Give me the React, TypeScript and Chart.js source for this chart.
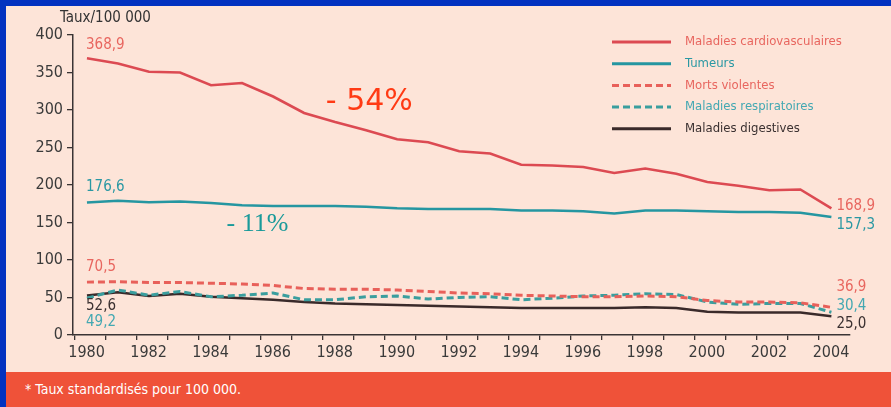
import React, { useEffect, useRef } from "react";
import { Chart, registerables } from "chart.js";

Chart.register(...registerables);

// ---------- DATA ----------
const years = [
  1980, 1981, 1982, 1983, 1984, 1985, 1986, 1987, 1988, 1989, 1990, 1991, 1992,
  1993, 1994, 1995, 1996, 1997, 1998, 1999, 2000, 2001, 2002, 2003, 2004,
];
const cardiovasculaires = [
  368.9, 362, 351, 350, 333, 336, 318, 296, 284, 273, 261, 257, 245, 242, 227,
  226, 224, 216, 222, 215, 204, 199, 193, 194, 168.9,
];
const tumeurs = [
  176.6, 179, 177, 178, 176, 173, 172, 172, 172, 171, 169, 168, 168, 168, 166,
  166, 165, 162, 166, 166, 165, 164, 164, 163, 157.3,
];
const mortsViolentes = [
  70.5, 71, 70, 70, 69, 68, 66, 62, 61, 61, 60, 58, 56, 55, 53, 52, 51, 51, 52,
  51, 46, 44, 44, 43, 36.9,
];
const respiratoires = [
  49.2, 60, 53, 58, 51, 53, 56, 47, 47, 51, 52, 48, 50, 51, 47, 49, 52, 53, 55,
  54, 44, 41, 42, 42, 30.4,
];
const digestives = [
  52.6, 57, 52, 55, 51, 49, 47, 44, 42, 41, 40, 39, 38, 37, 36, 36, 36, 36, 37,
  36, 31, 30, 30, 30, 25.0,
];
const seriesNames = [
  "Maladies cardiovasculaires",
  "Tumeurs",
  "Morts violentes",
  "Maladies respiratoires",
  "Maladies digestives",
];
const startLabels = ["368,9", "176,6", "70,5", "49,2", "52,6"];
const endLabels = ["168,9", "157,3", "36,9", "30,4", "25,0"];
const yTicks = [0, 50, 100, 150, 200, 250, 300, 350, 400];
const yAxisTitle = "Taux/100 000";
const footnote = "* Taux standardisés pour 100 000.";
const annotationTexts = ["- 54%", "- 11%"];

// ---------- STYLE ----------
const BLUE = "#0232C0";
const CREAM = "#FDE4D8";
const FOOT = "#EF5239";
const AXIS = "#3a3434";
const NARROW =
  '"Liberation Sans Narrow", "DejaVu Sans Condensed", "Roboto Condensed", sans-serif';

const lineColors = ["#DC4A52", "#2596A1", "#E8605A", "#3A9E9E", "#3A2A2A"];
const textColors = ["#E8665F", "#2A98A3", "#E8665F", "#43A8B2", "#3A3030"];
const dashes: number[][] = [[], [], [7, 4], [7, 4], []];
const widths = [2.6, 2.6, 3, 3, 2.4];
// label offsets (px) relative to first/last data point, centre of text
const startDy = [-13, -15, -15, 24, 11];
const endDy = [-2, 8, -20, -6, 8];
// annotation anchors in data units (left edge, vertical centre)
const annotationAnchors = [
  { x: 1987.7, y: 311, color: "#FF3A14", font: '30px "DejaVu Sans", sans-serif' },
  { x: 1984.5, y: 148, color: "#1A9A9A", font: '26px "Liberation Serif", serif' },
];

const allSeries = [cardiovasculaires, tumeurs, mortsViolentes, respiratoires, digestives];

const decorPlugin = {
  id: "decor",
  afterDraw(chart: any) {
    const ctx = chart.ctx as CanvasRenderingContext2D;
    const xs = chart.scales.x;
    const ys = chart.scales.y;
    const area = chart.chartArea;
    ctx.save();

    // y-axis title
    ctx.font = `15px ${NARROW}`;
    ctx.fillStyle = "#333";
    ctx.textAlign = "left";
    ctx.textBaseline = "middle";
    ctx.fillText(yAxisTitle, ys.right - 13, area.top - 17);

    // start / end value labels
    ctx.font = `15px ${NARROW}`;
    allSeries.forEach((s, i) => {
      ctx.fillStyle = textColors[i];
      ctx.textAlign = "left";
      const x0 = xs.getPixelForValue(years[0]);
      const y0 = ys.getPixelForValue(s[0]);
      ctx.fillText(startLabels[i], x0 - 1, y0 + startDy[i]);
      const x1 = xs.getPixelForValue(years[years.length - 1]);
      const y1 = ys.getPixelForValue(s[s.length - 1]);
      ctx.fillText(endLabels[i], x1 + 5, y1 + endDy[i]);
    });

    // annotations
    annotationAnchors.forEach((a, i) => {
      ctx.font = a.font;
      ctx.fillStyle = a.color;
      ctx.textAlign = "left";
      ctx.fillText(annotationTexts[i], xs.getPixelForValue(a.x), ys.getPixelForValue(a.y));
    });

    // legend
    const lx = area.right - 238;
    const ly = area.top + 7;
    const step = 21.7;
    chart.data.datasets.forEach((ds: any, i: number) => {
      const y = ly + i * step;
      ctx.beginPath();
      ctx.setLineDash(ds.borderDash || []);
      ctx.strokeStyle = ds.borderColor;
      ctx.lineWidth = 3;
      ctx.moveTo(lx, y);
      ctx.lineTo(lx + 59, y);
      ctx.stroke();
      ctx.setLineDash([]);
      ctx.font = `13px ${NARROW}`;
      ctx.fillStyle = textColors[i];
      ctx.textAlign = "left";
      ctx.fillText(ds.label, lx + 73, y);
    });
    ctx.restore();
  },
};

export default function App() {
  const ref = useRef<HTMLCanvasElement | null>(null);

  useEffect(() => {
    if (!ref.current) return;
    const chart = new Chart(ref.current, {
      type: "line",
      data: {
        datasets: allSeries.map((s, i) => ({
          label: seriesNames[i],
          data: years.map((y, j) => ({ x: y, y: s[j] })),
          borderColor: lineColors[i],
          borderWidth: widths[i],
          borderDash: dashes[i],
          pointRadius: 0,
          tension: 0,
          fill: false,
        })),
      },
      options: {
        responsive: false,
        animation: false,
        devicePixelRatio: 1,
        layout: { padding: { left: 0, top: 35, right: 41, bottom: 0 } },
        plugins: {
          legend: { display: false },
          tooltip: { enabled: false },
          title: { display: false },
        },
        scales: {
          x: {
            type: "linear",
            min: 1979.55,
            max: 2004.6,
            afterBuildTicks: (scale: any) => {
              scale.ticks = years.map((y) => ({ value: y - 0.4 }));
            },
            afterFit: (scale: any) => {
              scale.height = 37;
            },
            grid: {
              display: true,
              drawOnChartArea: false,
              drawTicks: true,
              tickLength: 5,
              color: AXIS,
              lineWidth: 1.3,
            },
            border: { display: true, color: AXIS, width: 1.5 },
            ticks: {
              autoSkip: false,
              maxRotation: 0,
              minRotation: 0,
              labelOffset: 12,
              padding: 3,
              color: "#3a3a3a",
              font: { family: NARROW, size: 16 },
              callback: (v: any) => {
                const y = Math.round(Number(v) + 0.4);
                return y % 2 === 0 ? String(y) : "";
              },
            },
          },
          y: {
            min: 0,
            max: 400,
            afterBuildTicks: (scale: any) => {
              scale.ticks = yTicks.map((v) => ({ value: v }));
            },
            afterFit: (scale: any) => {
              scale.width = 73;
            },
            grid: {
              display: true,
              drawOnChartArea: false,
              drawTicks: true,
              tickLength: 6,
              color: AXIS,
              lineWidth: 1.3,
            },
            border: { display: true, color: AXIS, width: 1.5 },
            ticks: {
              padding: 4,
              color: "#3a3a3a",
              font: { family: NARROW, size: 16 },
            },
          },
        },
      },
      plugins: [decorPlugin],
    });
    return () => chart.destroy();
  }, []);

  return (
    <div
      style={{
        position: "fixed",
        left: 0,
        top: 0,
        width: 891,
        height: 407,
        background: BLUE,
        overflow: "hidden",
      }}
    >
      <div
        style={{
          position: "absolute",
          left: 6,
          top: 6,
          width: 885,
          height: 366,
          background: CREAM,
        }}
      />
      <div
        style={{
          position: "absolute",
          left: 6,
          top: 372,
          width: 885,
          height: 35,
          background: FOOT,
          color: "#fff",
          fontFamily: NARROW,
          fontSize: 14,
          lineHeight: "35px",
          paddingLeft: 19,
          boxSizing: "border-box",
        }}
      >
        {footnote}
      </div>
      <canvas
        ref={ref}
        width={891}
        height={372}
        style={{ position: "absolute", left: 0, top: 0, width: 891, height: 372 }}
      />
    </div>
  );
}
